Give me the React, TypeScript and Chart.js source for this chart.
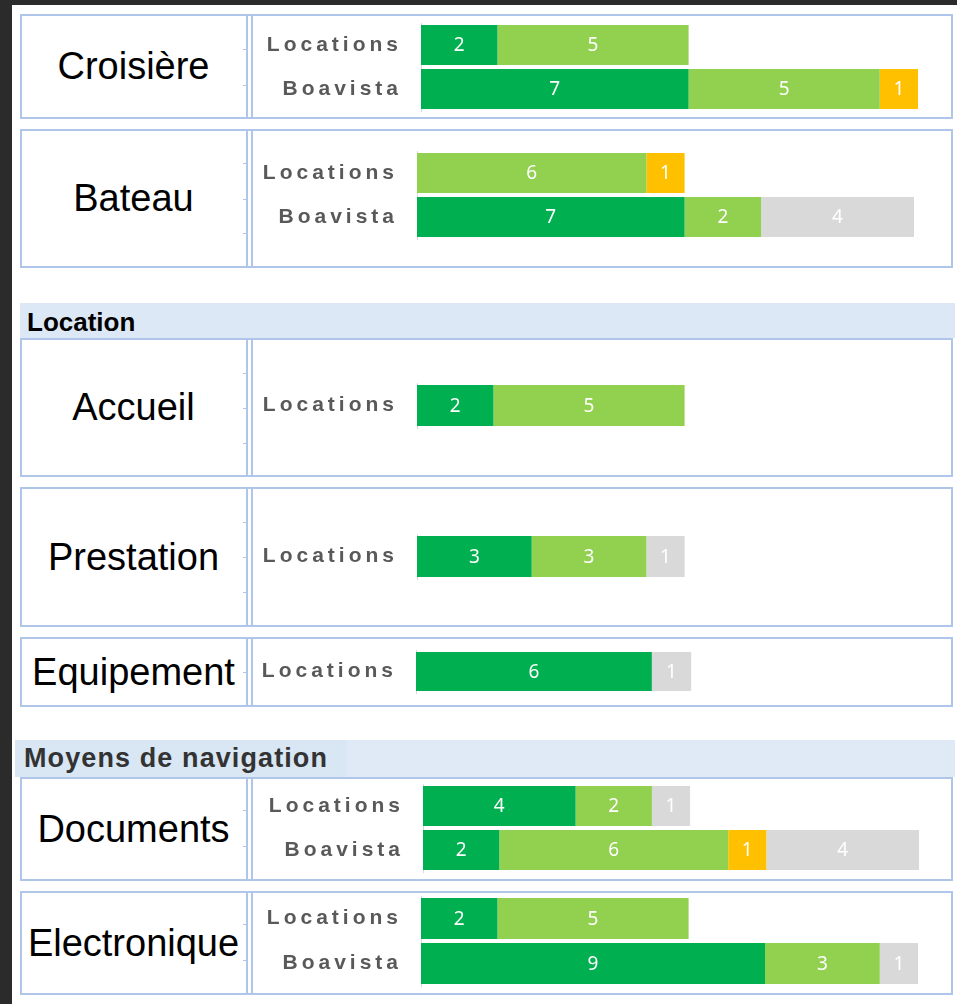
import React, { useEffect, useRef } from "react";
import { Chart, registerables } from "chart.js";

Chart.register(...registerables);

// ---- Data ----
const groups = ["Croisière", "Bateau", "Accueil", "Prestation", "Equipement", "Documents", "Electronique"];
const rowLabels = [
  ["Locations", "Boavista"],
  ["Locations", "Boavista"],
  ["Locations"],
  ["Locations"],
  ["Locations"],
  ["Locations", "Boavista"],
  ["Locations", "Boavista"],
];
const darkGreenValues = [[2, 7], [0, 7], [2], [3], [6], [4, 2], [2, 9]];
const lightGreenValues = [[5, 5], [6, 2], [5], [3], [0], [2, 6], [5, 3]];
const orangeValues = [[0, 1], [1, 0], [0], [0], [0], [0, 1], [0, 0]];
const grayValues = [[0, 0], [0, 4], [0], [1], [1], [1, 4], [0, 1]];
const sectionTitles = ["Location", "Moyens de navigation"];
const axisMax = 13;

const seriesColors = ["#00B050", "#92D050", "#FFC000", "#D9D9D9"];

// ---- Layout (pixels) ----
const panelLayout = [
  { top: 14, bottom: 119, areaTop: 23, row: 44, start: 421, end: 918 },
  { top: 129, bottom: 268, areaTop: 151, row: 44, start: 417, end: 914 },
  { top: 338, bottom: 477, areaTop: 383, row: 45, start: 417, end: 914 },
  { top: 487, bottom: 627, areaTop: 534, row: 45, start: 417, end: 914 },
  { top: 637, bottom: 707, areaTop: 650, row: 43, start: 416, end: 927 },
  { top: 777, bottom: 881, areaTop: 784, row: 44, start: 423, end: 919 },
  { top: 891, bottom: 995, areaTop: 896, row: 45, start: 421, end: 918 },
];
const stubYs = [
  [49, 85],
  [163, 199, 233],
  [373, 408, 443],
  [522, 557, 592],
  [672],
  [810, 846],
  [924, 960],
];
const CANVAS_LEFT = 254;
const PAD = 34;
const BORDER = "#b0c5ea";

const spacingPlugin = {
  id: "letterSpacing",
  beforeDraw(chart: any) {
    chart.ctx.letterSpacing = "4px";
  },
  beforeDatasetsDraw(chart: any) {
    chart.ctx.letterSpacing = "0px";
  },
};

const valueLabelPlugin = {
  id: "valueLabels",
  afterDatasetsDraw(chart: any) {
    const ctx = chart.ctx;
    ctx.save();
    ctx.letterSpacing = "0px";
    ctx.font = '19px "Noto Sans"';
    ctx.fillStyle = "#ffffff";
    ctx.textAlign = "center";
    ctx.textBaseline = "middle";
    chart.data.datasets.forEach((ds: any, di: number) => {
      const meta = chart.getDatasetMeta(di);
      meta.data.forEach((el: any, i: number) => {
        const v = ds.data[i];
        if (!v) return;
        const { x, y, base } = el.getProps(["x", "y", "base"], true);
        ctx.fillText(String(v), (x + base) / 2, y + 1);
      });
    });
    ctx.restore();
  },
};

function PanelChart({ index }: { index: number }) {
  const ref = useRef<HTMLCanvasElement>(null);
  const lay = panelLayout[index];
  const rows = rowLabels[index].length;
  const width = lay.end - CANVAS_LEFT;
  const height = rows * lay.row + PAD * 2;

  useEffect(() => {
    if (!ref.current) return;
    const seriesData = [darkGreenValues, lightGreenValues, orangeValues, grayValues];
    const chart = new Chart(ref.current, {
      type: "bar",
      data: {
        labels: rowLabels[index],
        datasets: seriesData.map((s, k) => ({
          data: s[index],
          backgroundColor: seriesColors[k],
          borderWidth: 0,
          categoryPercentage: 1,
          barPercentage: 0.91,
        })),
      },
      options: {
        indexAxis: "y",
        animation: false,
        responsive: false,
        maintainAspectRatio: false,
        layout: { padding: { top: PAD, bottom: PAD, left: 0, right: 0 } },
        plugins: { legend: { display: false }, tooltip: { enabled: false } },
        scales: {
          x: { stacked: true, min: 0, max: axisMax, display: false },
          y: {
            stacked: true,
            grid: { display: false, drawTicks: false },
            border: { display: true, color: "#d9d9d9", width: 1 },
            ticks: {
              color: "#595959",
              padding: 19,
              font: { family: '"Liberation Sans", Arial, sans-serif', size: 21, weight: "bold" },
            },
            afterFit: (scale: any) => {
              scale.width = lay.start - CANVAS_LEFT;
            },
          },
        },
      } as any,
      plugins: [spacingPlugin, valueLabelPlugin],
    });
    return () => chart.destroy();
  }, [index]);

  return (
    <canvas
      ref={ref}
      width={width}
      height={height}
      style={{
        position: "absolute",
        left: CANVAS_LEFT,
        top: lay.areaTop - PAD,
        width,
        height,
        zIndex: 2,
      }}
    />
  );
}

function Panel({ index }: { index: number }) {
  const lay = panelLayout[index];
  const h = lay.bottom - lay.top;
  return (
    <>
      <div
        style={{
          position: "absolute",
          left: 20,
          top: lay.top,
          width: 933,
          height: h,
          boxSizing: "border-box",
          border: `2px solid ${BORDER}`,
          background: "#ffffff",
        }}
      />
      <div style={{ position: "absolute", left: 246, top: lay.top, width: 2, height: h, background: BORDER }} />
      <div style={{ position: "absolute", left: 251, top: lay.top, width: 2, height: h, background: BORDER }} />
      {stubYs[index].map((y, k) => (
        <div key={k} style={{ position: "absolute", left: 243, top: y, width: 3, height: 1, background: BORDER }} />
      ))}
      <div
        style={{
          position: "absolute",
          left: 20,
          top: lay.top,
          width: 227,
          height: h,
          display: "flex",
          alignItems: "center",
          justifyContent: "center",
          fontFamily: '"Liberation Sans", Arial, sans-serif',
          fontSize: 38,
          color: "#000000",
          whiteSpace: "nowrap",
        }}
      >
        {groups[index]}
      </div>
      <PanelChart index={index} />
    </>
  );
}

export default function App() {
  useEffect(() => {
    document.body.style.margin = "0";
  }, []);
  return (
    <div
      style={{
        position: "fixed",
        left: 0,
        top: 0,
        width: 957,
        height: 1004,
        overflow: "hidden",
        background: "#ffffff",
      }}
    >
      <div style={{ position: "absolute", left: 0, top: 0, width: 957, height: 5, background: "#2b2b2b" }} />
      <div style={{ position: "absolute", left: 0, top: 0, width: 12, height: 1004, background: "#2b2b2b" }} />

      {/* Section header: Location */}
      <div style={{ position: "absolute", left: 20, top: 303, width: 935, height: 35, background: "#dce8f5" }} />
      <div
        style={{
          position: "absolute",
          left: 27,
          top: 303,
          height: 35,
          lineHeight: "38px",
          fontFamily: '"Liberation Sans", Arial, sans-serif',
          fontWeight: "bold",
          fontSize: 26,
          color: "#000000",
          whiteSpace: "nowrap",
        }}
      >
        {sectionTitles[0]}
      </div>

      {/* Section header: Moyens de navigation */}
      <div style={{ position: "absolute", left: 15, top: 740, width: 332, height: 37, background: "#d9e6f4" }} />
      <div style={{ position: "absolute", left: 347, top: 740, width: 608, height: 37, background: "#dfeaf6" }} />
      <div
        style={{
          position: "absolute",
          left: 24,
          top: 740,
          height: 37,
          lineHeight: "37px",
          fontFamily: '"Liberation Sans", Arial, sans-serif',
          fontWeight: "bold",
          fontSize: 27,
          letterSpacing: "1.1px",
          color: "#333333",
          whiteSpace: "nowrap",
        }}
      >
        {sectionTitles[1]}
      </div>

      {groups.map((_, i) => (
        <Panel key={i} index={i} />
      ))}
    </div>
  );
}
